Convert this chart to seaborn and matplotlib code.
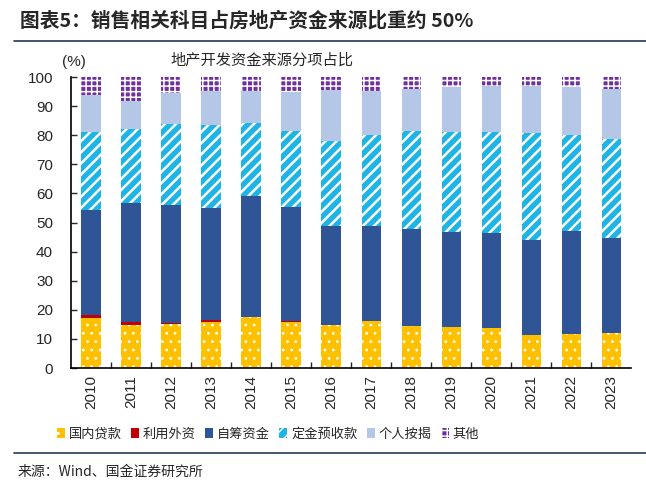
import matplotlib
matplotlib.use("Agg")
import matplotlib.pyplot as plt
import matplotlib.patches as mpatches
from matplotlib.lines import Line2D
import numpy as np
import seaborn as sns

years = [str(y) for y in range(2010, 2024)]
domestic_loans = [17.1, 14.9, 15.2, 15.9, 17.4, 15.9, 14.7, 16.0, 14.3, 14.0, 13.6, 11.2, 11.6, 11.9]
foreign_capital = [1.1, 1.0, 0.3, 0.6, 0.3, 0.3, 0.1, 0.1, 0.1, 0.1, 0.05, 0.05, 0.05, 0.1]
self_raised = [36.2, 40.9, 40.4, 38.6, 41.3, 39.2, 33.9, 32.6, 33.5, 32.5, 32.7, 32.7, 35.3, 32.8]
deposits = [26.6, 25.4, 27.9, 28.4, 25.1, 25.9, 29.2, 31.5, 33.4, 34.4, 34.7, 36.9, 33.2, 34.0]
mortgage = [13.0, 9.6, 10.6, 11.7, 11.1, 13.5, 17.5, 15.1, 14.7, 15.6, 15.8, 16.0, 16.5, 17.1]
others = [6.0, 8.2, 5.6, 4.8, 4.8, 5.2, 4.6, 4.7, 4.0, 3.4, 3.2, 3.2, 3.4, 4.1]

series_names = ["国内贷款", "利用外资", "自筹资金", "定金预收款", "个人按揭", "其他"]
series_vals = [domestic_loans, foreign_capital, self_raised, deposits, mortgage, others]
colors = ["#FFC000", "#C00000", "#2F5597", "#1FB4E6", "#B4C7E7", "#7030A0"]
hatches = ["..", None, None, "///", None, "+++"]
hatch_lw = [0.8, 1.0, 1.0, 1.8, 1.0, 1.1]

sns.set_style("white")
cjk = ["Noto Sans CJK SC", "DejaVu Sans"]
plt.rcParams["font.family"] = cjk
plt.rcParams["hatch.color"] = "white"

fig = plt.figure(figsize=(6.46, 4.91), dpi=100)
ax = fig.add_axes([0.110, 0.2505, 0.867, 0.5925])

bottom = np.zeros(len(years))
for name, vals, col, h, hl in zip(series_names, series_vals, colors, hatches, hatch_lw):
    with plt.rc_context({"hatch.linewidth": hl, "hatch.color": "white"}):
        n_before = len(ax.patches)
        sns.barplot(x=years, y=vals, order=years, bottom=bottom, color=col,
                    hatch=h, edgecolor="white", linewidth=0, width=0.48,
                    saturation=1, ax=ax)
        for p in ax.patches[n_before:]:
            p.set_facecolor(col)
            if hasattr(p, "set_hatch_linewidth"):
                p.set_hatch_linewidth(hl)
    bottom = bottom + np.array(vals)

ax.set_xlim(-0.5, len(years) - 0.5)
ax.set_ylim(0, 100)
ax.set_yticks(range(0, 101, 10))
ax.set_xlabel("")
ax.set_ylabel("")
for s in ["top", "right"]:
    ax.spines[s].set_visible(False)
for s in ["left", "bottom"]:
    ax.spines[s].set_color("black")
    ax.spines[s].set_linewidth(1.2)

tick_font = {"family": "Liberation Sans", "size": 11}
ax.set_yticklabels([str(v) for v in range(0, 101, 10)], fontdict=tick_font)
ax.set_xticks(range(len(years)))
ax.set_xticklabels(years, rotation=90, fontdict=tick_font)
ax.tick_params(axis="y", direction="in", length=4, width=1, pad=13, left=True)
ax.tick_params(axis="x", which="major", length=0, pad=5)
ax.set_xticks(np.arange(0.5, len(years) - 0.5, 1), minor=True)
ax.tick_params(axis="x", which="minor", direction="in", length=4, width=1, bottom=True)

fig.text(74 / 646, 1 - 62 / 491, "(%)", ha="center", va="center",
         fontsize=11, family="Liberation Sans")
fig.text(262 / 646, 1 - 60 / 491, "地产开发资金来源分项占比", ha="center", va="center",
         fontsize=11, family=cjk)

fig.text(20 / 646, 1 - 21 / 491, "图表5：销售相关科目占房地产资金来源比重约 50%",
         ha="left", va="center", fontsize=14.2, fontweight="bold", family=cjk)
fig.add_artist(Line2D([14 / 646, 1.0], [1 - 41 / 491] * 2, color="#1F3A56", lw=1.2,
                      transform=fig.transFigure))
fig.add_artist(Line2D([14 / 646, 1.0], [1 - 453 / 491] * 2, color="#1F3A56", lw=1.2,
                      transform=fig.transFigure))
fig.text(18 / 646, 1 - 472 / 491, "来源：Wind、国金证券研究所", ha="left", va="center",
         fontsize=10, family=cjk)

handles = []
for col, h in zip(colors, hatches):
    with plt.rc_context({"hatch.linewidth": 0.8, "hatch.color": "white"}):
        handles.append(mpatches.Patch(facecolor=col, hatch=h, edgecolor="white", linewidth=0))
leg = fig.legend(handles, series_names, loc="center", bbox_to_anchor=(268 / 646, 1 - 434 / 491),
                 ncol=6, frameon=False, handlelength=0.6, handleheight=0.7,
                 handletextpad=0.3, columnspacing=0.7, prop={"family": cjk, "size": 9.5})

fig.savefig("out.png", dpi=100)
